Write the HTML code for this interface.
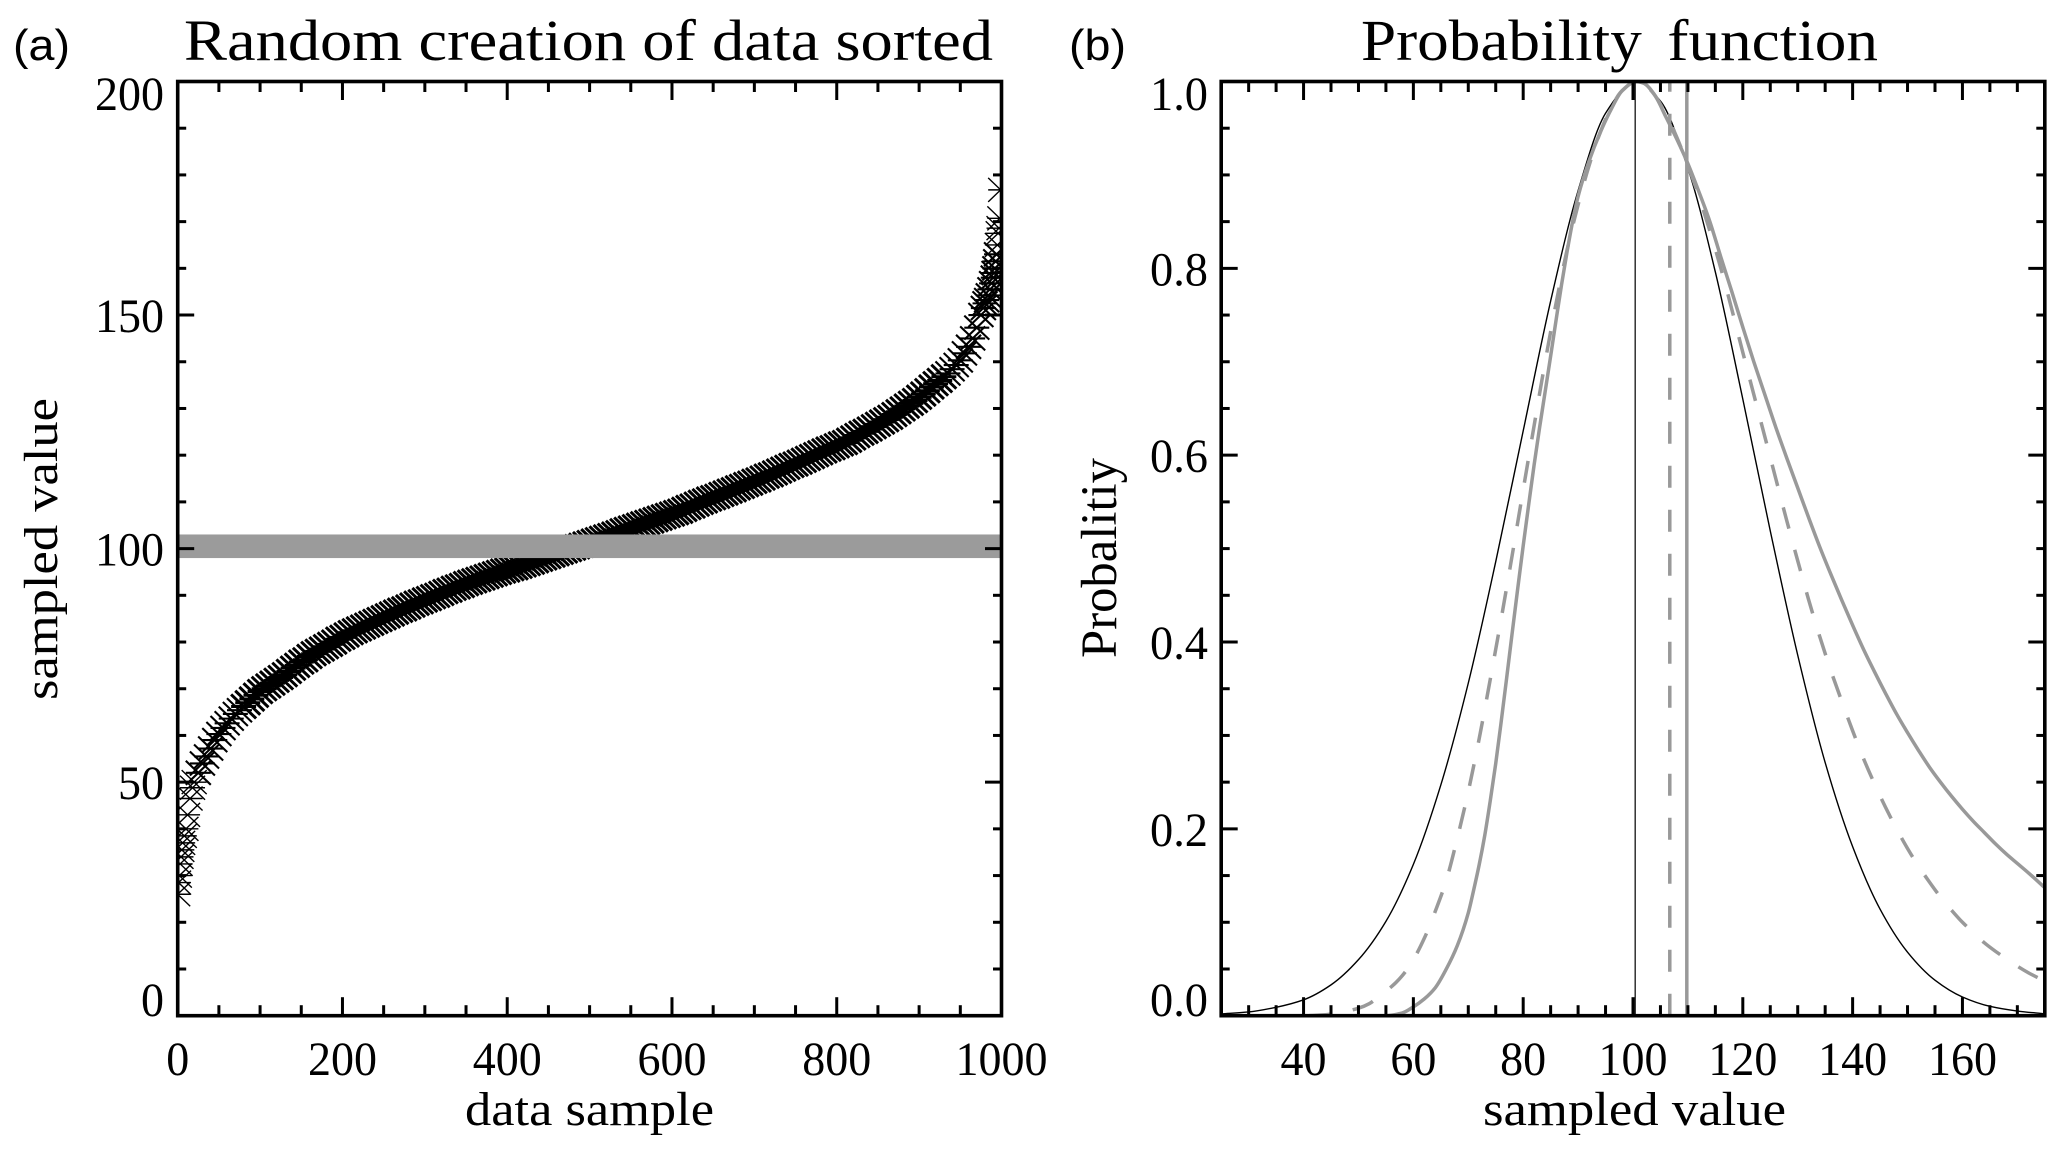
<!DOCTYPE html>
<html lang="en">
<head>
<meta charset="utf-8">
<title>Random creation of data sorted and probability function</title>
<style>
  html, body { margin: 0; padding: 0; background: #fff; }
  svg { display: block; }
  text { font-family: "Liberation Serif", serif; fill: #000; }
  .panel-tag { font-family: "Liberation Sans", sans-serif; font-size: 44px; }
  .title { font-size: 58px; }
  .axis-title { font-size: 48px; }
  .tick { font-size: 48px; }
</style>
</head>
<body>
<svg id="figure" xmlns="http://www.w3.org/2000/svg" width="2067" height="1155" viewBox="0 0 2067 1155">
  <rect x="0" y="0" width="2067" height="1155" fill="#fff"/>
  <defs>
    <clipPath id="clip-a"><rect x="177.7" y="81.5" width="823.8" height="934.2"/></clipPath>
    <clipPath id="clip-b"><rect x="1221.2" y="81.5" width="823.6" height="935.7"/></clipPath>
  </defs>

  <text class="panel-tag" x="13" y="60" textLength="57" lengthAdjust="spacingAndGlyphs">(a)</text>
  <text class="panel-tag" x="1069" y="60" textLength="57" lengthAdjust="spacingAndGlyphs">(b)</text>
  <text class="title" x="184" y="60" textLength="809" lengthAdjust="spacingAndGlyphs">Random creation of data sorted</text>
  <text class="title" x="1361" y="60" textLength="517" lengthAdjust="spacingAndGlyphs" style="word-spacing:9px">Probability function</text>

  <text class="axis-title" x="465" y="1125" textLength="249" lengthAdjust="spacingAndGlyphs">data sample</text>
  <text class="axis-title" x="1483" y="1125" textLength="303" lengthAdjust="spacingAndGlyphs">sampled value</text>
  <text class="axis-title" transform="translate(57 700) rotate(-90)" textLength="302" lengthAdjust="spacingAndGlyphs">sampled value</text>
  <text class="axis-title" transform="translate(1116 658) rotate(-90)" textLength="200" lengthAdjust="spacingAndGlyphs" style="font-size:51px">Probalitiy</text>

  <g id="panel-a-series" clip-path="url(#clip-a)"></g>
  <g id="panel-b-series" clip-path="url(#clip-b)"></g>
  <g id="panel-a-axes"></g>
  <g id="panel-b-axes"></g>
</svg>

<script>
// ---------- Panel (a) data: sorted samples ----------
const sampleIndex = [
  0,1,2,3,4,5,6,8,10,12,
  15,18,20,25,30,35,40,45,50,55,
  60,65,70,75,80,85,90,95,100,105,
  110,115,120,125,130,135,140,145,150,155,
  160,165,170,175,180,185,190,195,200,205,
  210,215,220,225,230,235,240,245,250,255,
  260,265,270,275,280,285,290,295,300,305,
  310,315,320,325,330,335,340,345,350,355,
  360,365,370,375,380,385,390,395,400,405,
  410,415,420,425,430,435,440,445,450,455,
  460,465,470,475,480,485,490,495,500,505,
  510,515,520,525,530,535,540,545,550,555,
  560,565,570,575,580,585,590,595,600,605,
  610,615,620,625,630,635,640,645,650,655,
  660,665,670,675,680,685,690,695,700,705,
  710,715,720,725,730,735,740,745,750,755,
  760,765,770,775,780,785,790,795,800,805,
  810,815,820,825,830,835,840,845,850,855,
  860,865,870,875,880,885,890,895,900,905,
  910,915,920,925,930,935,940,945,950,955,
  960,965,970,975,978,980,982,984,986,988,
  990,991,992,993,994,995,996,997,998,999
];
const sampledValues = [
  26,28.5,30,32.5,34,35.5,37,38.5,40,43,
  46.5,48.8,50,52,54,55.5,57.2,59,60.3,61.6,
  62.6,63.6,64.6,65.4,66.2,67,67.8,68.6,69.4,70,
  70.6,71.2,71.8,72.4,73,73.7,74.4,75,75.7,76.2,
  76.9,77.5,78,78.5,79,79.5,80,80.6,81,81.5,
  82,82.4,82.8,83.2,83.6,84,84.4,84.8,85.2,85.6,
  86,86.4,86.8,87.1,87.5,87.9,88.3,88.6,89,89.3,
  89.7,90,90.4,90.8,91.1,91.5,91.8,92.1,92.5,92.8,
  93.1,93.4,93.7,94,94.3,94.6,94.9,95.2,95.4,95.7,
  95.9,96.2,96.5,96.8,97.1,97.4,97.7,98,98.3,98.6,
  98.9,99.2,99.5,99.8,100.1,100.4,100.7,101,101.3,101.6,
  101.9,102.2,102.5,102.8,103.1,103.4,103.8,104.1,104.4,104.7,
  105,105.3,105.6,105.9,106.2,106.5,106.8,107.1,107.4,107.7,
  108,108.4,108.8,109.1,109.5,109.9,110.2,110.6,110.9,111.2,
  111.6,111.9,112.3,112.6,113,113.3,113.7,114,114.4,114.7,
  115.1,115.5,115.8,116.2,116.6,117,117.4,117.8,118.1,118.5,
  118.9,119.3,119.7,120.1,120.5,120.9,121.3,121.6,122,122.4,
  122.7,123.2,123.7,124.2,124.7,125.1,125.6,126.1,126.6,127.1,
  127.6,128.1,128.7,129.3,129.9,130.5,131.1,131.7,132.4,133.1,
  133.8,134.6,135.3,136,136.8,137.5,138.4,139.3,140.3,141.8,
  143.2,145,147.3,150,151.5,152.5,153.2,154.2,155.5,156.8,
  158,159,160,161.5,163,165,167.5,168.6,170.7,176.8
];
const referenceLevel = [100.5];
const panelAXTickLabels = ["0","200","400","600","800","1000"];
const panelAXTickValues = [0,200,400,600,800,1000];
const panelAYTickLabels = ["0","50","100","150","200"];
const panelAYTickValues = [0,50,100,150,200];

// ---------- Panel (b) data: curves ----------
const thinCurveX = [25,30,35,40,45,50,55,60,65,70,75,80,85,90,95,100,100.6,105,110,115,120,125,130,135,140,145,150,155,160,165,170,175];
const thinCurveP = [0.002,0.004,0.009,0.017,0.033,0.06,0.101,0.162,0.247,0.356,0.486,0.626,0.765,0.883,0.966,0.999,1,0.979,0.907,0.796,0.66,0.519,0.386,0.271,0.181,0.114,0.068,0.038,0.02,0.01,0.005,0.002];
const dashedCurveX = [
  25,40,44,46,48,50,52,54,56,58,
  60,62,64,66,68,70,72,74,76,78,
  80,82,84,86,88,90,92,94,96,98,
  100.6,103,106,108,110,112,114,116,118,120,
  122,124,126,128,130,132,134,136,138,140,
  142,144,146,148,150,152,154,156,158,160,
  162,164,166,168,170,172,175
];
const dashedCurveP = [
  0,0,0.001,0.003,0.005,0.008,0.013,0.022,0.031,0.043,
  0.06,0.083,0.112,0.145,0.19,0.24,0.297,0.36,0.425,0.493,
  0.563,0.632,0.7,0.763,0.82,0.868,0.91,0.945,0.972,0.99,
  1,0.992,0.965,0.94,0.91,0.877,0.84,0.8,0.756,0.71,
  0.665,0.62,0.575,0.53,0.487,0.445,0.406,0.37,0.337,0.305,
  0.275,0.248,0.223,0.2,0.179,0.16,0.143,0.127,0.113,0.1,
  0.089,0.078,0.069,0.061,0.053,0.046,0.037
];
const solidCurveX = [
  25,55,58,60,62,64,66,68,70,71,
  72,73,74,75,76,77,78,79,80,81,
  82,83,84,85,86,87,88,89,90,92,
  94,96,98,100.6,102,104,106,108,110,112,
  114,116,118,120,122,124,126,128,130,132,
  134,136,138,140,142,144,146,148,150,152,
  154,156,158,160,162,164,166,168,170,172,175
];
const solidCurveP = [
  0,0,0.003,0.0095,0.018,0.03,0.05,0.075,0.11,0.135,
  0.162,0.193,0.23,0.27,0.315,0.362,0.41,0.457,0.503,0.547,
  0.59,0.63,0.668,0.706,0.745,0.783,0.818,0.85,0.877,0.915,
  0.945,0.97,0.99,1,0.998,0.985,0.962,0.938,0.912,0.882,
  0.85,0.812,0.775,0.737,0.7,0.665,0.63,0.597,0.565,0.533,
  0.502,0.473,0.445,0.418,0.392,0.368,0.345,0.323,0.303,0.284,
  0.266,0.25,0.235,0.221,0.208,0.196,0.184,0.173,0.163,0.153,0.137
];
const meanLines = [100.4, 106.7, 109.8];
const panelBXTickLabels = ["40","60","80","100","120","140","160"];
const panelBXTickValues = [40,60,80,100,120,140,160];
const panelBYTickLabels = ["0.0","0.2","0.4","0.6","0.8","1.0"];
const panelBYTickValues = [0,0.2,0.4,0.6,0.8,1];

// ---------- Geometry and scales ----------
const SVG_NS = "http://www.w3.org/2000/svg";
const plotTop = 81.5, plotBottom = 1015.7;
const aLeft = 177.7, aRight = 1001.5, bLeft = 1221.2, bRight = 2044.8;
const xA = v => aLeft + (v / 1000) * (aRight - aLeft);
const yA = v => plotBottom - (v / 200) * (plotBottom - plotTop);
const xB = v => bLeft + ((v - 25) / 150) * (bRight - bLeft);
const yB = v => plotBottom - v * (plotBottom - plotTop);

function make(tag, attrs, parent) {
  const node = document.createElementNS(SVG_NS, tag);
  for (const key in attrs) node.setAttribute(key, attrs[key]);
  parent.appendChild(node);
  return node;
}

function monotonePath(xs, ys) {
  const n = xs.length, h = [], s = [], m = [];
  for (let i = 0; i < n - 1; i++) { h[i] = xs[i+1] - xs[i]; s[i] = (ys[i+1] - ys[i]) / h[i]; }
  m[0] = s[0]; m[n-1] = s[n-2];
  for (let i = 1; i < n - 1; i++) {
    if (s[i-1] * s[i] <= 0) { m[i] = 0; continue; }
    const w1 = 2 * h[i] + h[i-1], w2 = h[i] + 2 * h[i-1];
    m[i] = (w1 + w2) / (w1 / s[i-1] + w2 / s[i]);
  }
  let d = "M" + xs[0].toFixed(2) + " " + ys[0].toFixed(2);
  for (let i = 0; i < n - 1; i++) {
    const c = h[i] / 3;
    d += " C" + (xs[i] + c).toFixed(2) + " " + (ys[i] + m[i] * c).toFixed(2) + " " +
         (xs[i+1] - c).toFixed(2) + " " + (ys[i+1] - m[i+1] * c).toFixed(2) + " " +
         xs[i+1].toFixed(2) + " " + ys[i+1].toFixed(2);
  }
  return d;
}

// ---------- Panel (a) marks ----------
const seriesA = document.getElementById("panel-a-series");
const markerHalfW = 12.5, markerHalfH = 12;
sampleIndex.forEach(function (idx, i) {
  const cx = xA(idx), cy = yA(sampledValues[i]);
  const d = "M" + (cx - markerHalfW) + " " + (cy - markerHalfH) + "L" + (cx + markerHalfW) + " " + (cy + markerHalfH) +
            "M" + (cx - markerHalfW) + " " + (cy + markerHalfH) + "L" + (cx + markerHalfW) + " " + (cy - markerHalfH) +
            "M" + (cx - markerHalfW) + " " + cy + "L" + (cx + markerHalfW) + " " + cy;
  const sparseEnd = idx < 25 || idx > 994;
  const taperEnd = idx < 80 || idx > 930;
  const mark = make("path", { d: d, fill: "none", stroke: "#000", "stroke-width": sparseEnd ? 1.4 : (taperEnd ? 2.1 : 3) }, seriesA);
  
  
});
const band = make("rect", {
  x: xA(sampleIndex[0]),
  y: yA(referenceLevel[0]) - 11.8,
  width: xA(1000) - xA(sampleIndex[0]),
  height: 23.6,
  fill: "#9b9b9b"
}, seriesA);



// ---------- Panel (b) marks ----------
const seriesB = document.getElementById("panel-b-series");

const thinPath = make("path", { d: monotonePath(thinCurveX.map(xB), thinCurveP.map(yB)), fill: "none", stroke: "#000", "stroke-width": 1.4 }, seriesB);



const dashPath = make("path", { d: monotonePath(dashedCurveX.map(xB), dashedCurveP.map(yB)), fill: "none", stroke: "#999", "stroke-width": 3.5, "stroke-dasharray": "22 22" }, seriesB);



const solidPath = make("path", { d: monotonePath(solidCurveX.map(xB), solidCurveP.map(yB)), fill: "none", stroke: "#999", "stroke-width": 3.5 }, seriesB);



const meanBlack = make("line", { x1: xB(meanLines[0]), x2: xB(meanLines[0]), y1: yB(0), y2: yB(1), stroke: "#222", "stroke-width": 1.4 }, seriesB);



const meanDashed = make("line", { x1: xB(meanLines[1]), x2: xB(meanLines[1]), y1: yB(0), y2: yB(1), stroke: "#999", "stroke-width": 3.5, "stroke-dasharray": "22 22" }, seriesB);



const meanSolid = make("line", { x1: xB(meanLines[2]), x2: xB(meanLines[2]), y1: yB(0), y2: yB(1), stroke: "#999", "stroke-width": 3.5 }, seriesB);



// ---------- Axes ----------
function drawAxes(group, left, right, xScale, yScale, xMinors, yMinors, xTicks, xLabels, yTicks, yLabels, yLabelRight, digitW, prefix) {
  const frame = make("rect", { x: left, y: plotTop, width: right - left, height: plotBottom - plotTop, fill: "none", stroke: "#000", "stroke-width": 3.6 }, group);
  
  

  function tickLine(x1, y1, x2, y2, name) {
    const t = make("line", { x1: x1, y1: y1, x2: x2, y2: y2, stroke: "#000", "stroke-width": 3 }, group);
    
    
  }

  xMinors.forEach(function (v) {
    const x = xScale(v);
    tickLine(x, plotBottom, x, plotBottom - 10.5, prefix + '-x-minor-tick');
    tickLine(x, plotTop, x, plotTop + 10.5, prefix + '-x-minor-tick-top');
  });
  yMinors.forEach(function (v) {
    const y = yScale(v);
    tickLine(left, y, left + 8.5, y, prefix + '-y-minor-tick');
    tickLine(right, y, right - 8.5, y, prefix + '-y-minor-tick-right');
  });
  xTicks.forEach(function (v, i) {
    const x = xScale(v);
    tickLine(x, plotBottom, x, plotBottom - 18.5, prefix + '-x-major-tick');
    tickLine(x, plotTop, x, plotTop + 18.5, prefix + '-x-major-tick-top');
    const label = make("text", { x: x, y: 1075, class: "tick", "text-anchor": "middle", textLength: digitW * xLabels[i].length, lengthAdjust: "spacingAndGlyphs" }, group);
    label.textContent = xLabels[i];
    
    
  });
  yTicks.forEach(function (v, i) {
    const y = yScale(v);
    tickLine(left, y, left + 16.5, y, prefix + '-y-major-tick');
    tickLine(right, y, right - 16.5, y, prefix + '-y-major-tick-right');
    const isTop = i === yTicks.length - 1, isBottom = i === 0;
    const baseline = isTop ? y + 28.5 : (isBottom ? y + 0.5 : y + 17);
    const text = yLabels[i];
    const w = text.indexOf(".") >= 0 ? 58 : digitW * text.length;
    const label = make("text", { x: yLabelRight, y: baseline, class: "tick", "text-anchor": "end", textLength: w, lengthAdjust: "spacingAndGlyphs" }, group);
    label.textContent = text;
    
    
  });
}

const panelAXMinors = [50,100,150,250,300,350,450,500,550,650,700,750,850,900,950];
const panelAYMinors = [10,20,30,40,60,70,80,90,110,120,130,140,160,170,180,190];
const panelBXMinors = [30,35,45,50,55,65,70,75,85,90,95,105,110,115,125,130,135,145,150,155,165,170];
const panelBYMinors = [0.05,0.1,0.15,0.25,0.3,0.35,0.45,0.5,0.55,0.65,0.7,0.75,0.85,0.9,0.95];

drawAxes(document.getElementById("panel-a-axes"), aLeft, aRight, xA, yA, panelAXMinors, panelAYMinors,
  panelAXTickValues, panelAXTickLabels, panelAYTickValues, panelAYTickLabels, 164, 23, 'panel-a');
drawAxes(document.getElementById("panel-b-axes"), bLeft, bRight, xB, yB, panelBXMinors, panelBYMinors,
  panelBXTickValues, panelBXTickLabels, panelBYTickValues, panelBYTickLabels, 1208, 23, 'panel-b');
</script>
</body>
</html>
